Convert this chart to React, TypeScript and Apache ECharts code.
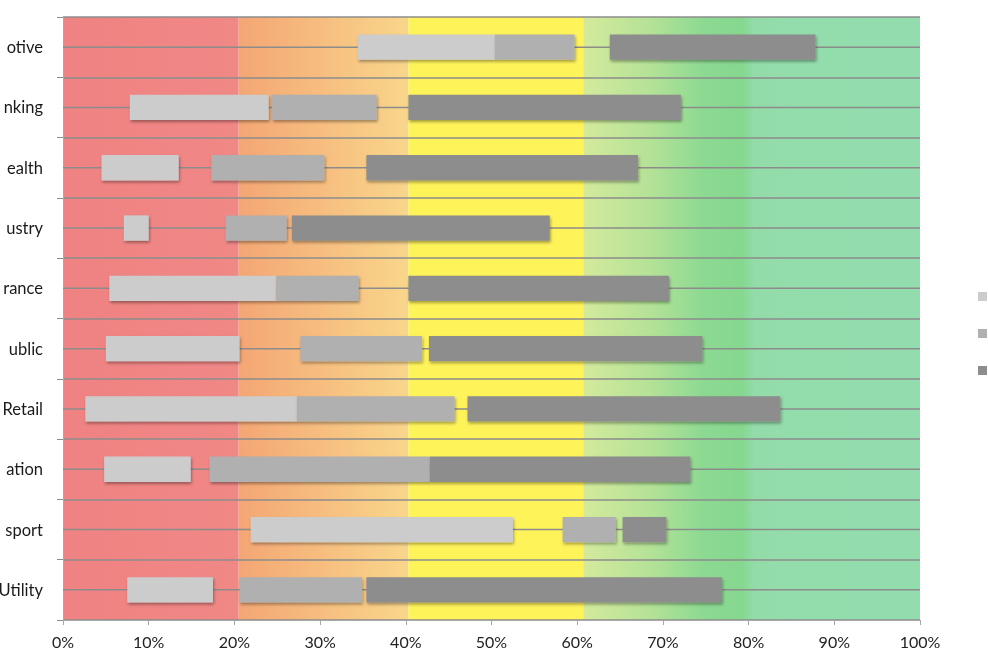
import React, { useEffect, useRef } from 'react';
import * as echarts from 'echarts';

// row labels, as far as they show at the left edge of the picture
const categories = ['otive', 'nking', 'ealth', 'ustry', 'rance', 'ublic', 'Retail', 'ation', 'sport', 'Utility'];

// [start %, end %] per row, top to bottom
const lowRanges = [[34.4, 50.4], [7.8, 24.0], [4.5, 13.5], [7.1, 10.0], [5.4, 24.9], [5.0, 20.6], [2.6, 27.3], [4.8, 14.9], [21.9, 52.5], [7.5, 17.5]];
const midRanges = [[50.4, 59.7], [24.4, 36.6], [17.3, 30.5], [19.0, 26.1], [24.9, 34.5], [27.7, 41.9], [27.3, 45.7], [17.1, 42.8], [58.3, 64.5], [20.6, 34.9]];
const highRanges = [[63.8, 87.8], [40.3, 72.1], [35.4, 67.1], [26.7, 56.8], [40.3, 70.7], [42.7, 74.6], [47.2, 83.7], [42.8, 73.2], [65.3, 70.4], [35.4, 76.9]];

const seriesNames = ['Low', 'Medium', 'High'];

// background zones [from %, to %]
const zoneRanges = [[0, 20.5], [20.5, 40.3], [40.3, 60.7], [60.7, 100]];

const zoneColors = [
    [[0, '#ef8282'], [1, '#f08886']],
    [[0, '#f4a674'], [1, '#f9d68b']],
    [[0, '#fff35a'], [1, '#fff35a']],
    [[0, '#d4ea9c'], [0.2, '#b4e297'], [0.36, '#8cd992'], [0.47, '#86d78f'], [0.51, '#93dcaa'], [1, '#93dcae']],
];

const barColors = ['#cccccc', '#b0b0b0', '#8d8d8d'];

const App = () => {
    const chartRef = useRef(null);

    useEffect(() => {
        const myChart = echarts.init(chartRef.current, null, { renderer: 'svg' });

        const barItem = (color: string) => (params: any, api: any) => {
            const cat = api.value(0);
            const start = api.coord([api.value(1), cat]);
            const end = api.coord([api.value(2), cat]);
            const h = api.size([0, 1])[1] * 0.42;
            return {
                type: 'rect',
                shape: { x: start[0], y: start[1] - h / 2, width: end[0] - start[0], height: h },
                style: {
                    fill: color,
                    shadowBlur: 3,
                    shadowOffsetX: 1,
                    shadowOffsetY: 2,
                    shadowColor: 'rgba(0,0,0,0.35)',
                },
            };
        };

        const makeBars = (name: string, ranges: number[][], color: string) => ({
            name,
            type: 'custom',
            z: 5,
            itemStyle: { color },
            encode: { x: [1, 2], y: 0 },
            renderItem: barItem(color),
            data: ranges.map((r, i) => [i, r[0], r[1]]),
        });

        myChart.setOption({
            animation: false,
            textStyle: { fontFamily: 'Lato' },
            grid: { left: 63, right: 68, top: 17, bottom: 46, outerBoundsMode: 'none', containLabel: false },
            // legend labels run off the right edge in the reference, only the keys show
            legend: {
                orient: 'vertical',
                left: 973,
                top: 287,
                itemGap: 28,
                icon: 'rect',
                itemWidth: 9,
                itemHeight: 9,
                formatter: () => '',
                textStyle: { fontSize: 8 },
                data: seriesNames,
            },
            xAxis: {
                type: 'value',
                min: 0,
                max: 100,
                interval: 10,
                axisLine: { show: true, lineStyle: { color: '#a8a8a8', width: 1 } },
                axisTick: { show: true, length: 5, lineStyle: { color: '#a8a8a8' } },
                splitLine: { show: false },
                axisLabel: { formatter: '{value}%', fontSize: 16, color: '#222', margin: 13 },
            },
            yAxis: {
                type: 'category',
                inverse: true,
                data: categories,
                axisLine: { show: true, lineStyle: { color: '#a8a8a8' } },
                axisTick: { show: true, length: 6, lineStyle: { color: '#8c8c8c' } },
                splitLine: { show: true, lineStyle: { color: '#8c8c8c', width: 1.5 } },
                axisLabel: { fontSize: 16.5, color: '#1a1a1a', margin: 20 },
            },
            series: [
                {
                    type: 'custom',
                    name: 'zones',
                    z: -1,
                    silent: true,
                    encode: { x: [0, 1] },
                    renderItem: (params: any, api: any) => {
                        const cs = params.coordSys;
                        const x0 = api.coord([api.value(0), 0])[0];
                        const x1 = api.coord([api.value(1), 0])[0];
                        const stops = zoneColors[params.dataIndex].map((s) => ({ offset: s[0], color: s[1] }));
                        return {
                            type: 'rect',
                            shape: { x: x0, y: cs.y, width: x1 - x0, height: cs.height },
                            style: { fill: new echarts.graphic.LinearGradient(0, 0, 1, 0, stops) },
                        };
                    },
                    data: zoneRanges,
                },
                {
                    type: 'custom',
                    name: 'rowLines',
                    z: 1,
                    silent: true,
                    encode: { y: 0 },
                    renderItem: (params: any, api: any) => {
                        const cs = params.coordSys;
                        const y = api.coord([0, api.value(0)])[1];
                        return {
                            type: 'line',
                            shape: { x1: cs.x, y1: y, x2: cs.x + cs.width, y2: y },
                            style: { stroke: '#8c8c8c', lineWidth: 1.5 },
                        };
                    },
                    data: categories.map((c, i) => [i]),
                },
                makeBars(seriesNames[0], lowRanges, barColors[0]),
                makeBars(seriesNames[1], midRanges, barColors[1]),
                makeBars(seriesNames[2], highRanges, barColors[2]),
            ],
        });

        return () => {
            myChart.dispose();
        };
    }, []);

    return <div ref={chartRef} style={{ position: 'fixed', left: 0, top: 0, width: '988px', height: '666px' }} />;
};

export default App;
